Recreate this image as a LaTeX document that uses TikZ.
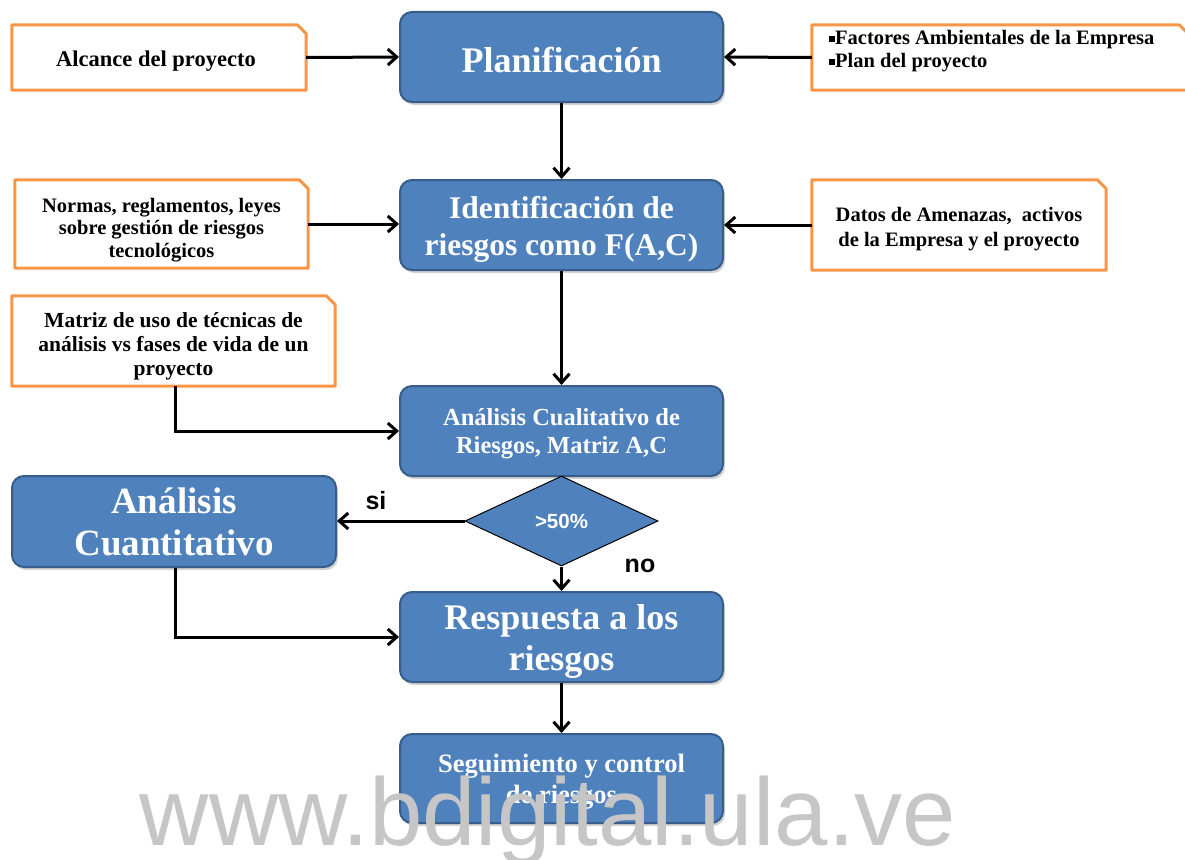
\documentclass[tikz,border=0pt]{standalone}
\usepackage{fontspec}
\setmainfont{Liberation Serif}
\newfontfamily\arialf{Liberation Sans}
\usetikzlibrary{arrows.meta,shapes.geometric,shadows}
\definecolor{boxblue}{HTML}{4F81BD}
\definecolor{boxedge}{HTML}{385D8A}
\definecolor{docorange}{HTML}{F79646}
\definecolor{wmgray}{HTML}{C6C6C6}
\newcommand{\docoutline}[1]{\draw[docline] (#1.north west) -- ([xshift=-9pt]#1.north east) -- ([yshift=-9pt]#1.north east) -- (#1.south east) -- (#1.south west) -- cycle;}
\begin{document}
\begin{tikzpicture}[x=1pt,y=-1pt,
  procbox/.style={rounded corners=12pt, fill=boxblue, draw=boxedge, line width=2pt,
    minimum width=323pt, minimum height=90pt, inner sep=0pt,
    drop shadow={shadow xshift=2pt, shadow yshift=-3pt, opacity=0.35}},
  proctext/.style={text=white, align=center, inner sep=0pt},
  docbox/.style={rectangle, inner sep=0pt},
  docline/.style={draw=docorange, line width=3pt, line join=round},
  doctext/.style={align=center, inner sep=0pt, font=\bfseries\fontsize{20.5}{22.5}\selectfont},
  flow/.style={line width=3pt, -{Straight Barb[length=9pt,width=16pt,line width=3pt]}},
  lbl/.style={font=\arialf\bfseries\fontsize{25}{27}\selectfont}
]
\useasboundingbox (0,0) rectangle (1185,859);
% main boxes
\node[procbox] (plan) at (561.5,57) {};
\node[proctext, font=\bfseries\fontsize{36}{40}\selectfont] (planT) at ([yshift=-3pt]plan.center) {Planificación};
\node[procbox] (ident) at (561.5,225) {};
\node[proctext, font=\bfseries\fontsize{31.5}{37}\selectfont] (identT) at ([yshift=-4pt]ident.center) {Identificación de\\riesgos como F(A,C)};
\node[procbox] (cual) at (561.5,431) {};
\node[proctext, font=\bfseries\fontsize{24.5}{28}\selectfont] (cualT) at ([yshift=-3pt]cual.center) {Análisis Cualitativo de\\Riesgos, Matriz A,C};
\node[procbox] (resp) at (561.5,637) {};
\node[proctext, font=\bfseries\fontsize{36}{41}\selectfont] (respT) at ([yshift=-4pt]resp.center) {Respuesta a los\\riesgos};
\node[procbox, minimum height=89pt] (seg) at (561.5,778.5) {};
\node[proctext, font=\bfseries\fontsize{26.5}{31}\selectfont] (segT) at ([yshift=-3pt]seg.center) {Seguimiento y control\\de riesgos};
\node[procbox, minimum width=324pt, minimum height=91pt] (cuant) at (174,521.5) {};
\node[proctext, font=\bfseries\fontsize{37}{42}\selectfont] (cuantT) at (cuant.center) {Análisis\\Cuantitativo};
% diamond
\node[diamond, fill=boxblue, draw=black, line width=1pt, minimum width=193pt, minimum height=90pt,
  aspect=2.15, inner sep=0pt, text=white, font=\arialf\bfseries\fontsize{20.5}{22}\selectfont] (dec) at (561.5,521) {>50\%};
% document boxes
\node[docbox, minimum width=294pt, minimum height=65pt] (alc) at (159,57.5) {};
\docoutline{alc}
\node[doctext, font=\bfseries\fontsize{22.5}{24}\selectfont] (alcT) at ([xshift=-3pt,yshift=-4pt]alc.center) {Alcance del proyecto};
\node[docbox, minimum width=376pt, minimum height=65pt] (fact) at (1000,57.5) {};
\docoutline{fact}
\node[anchor=north west, inner sep=0pt, align=left, font=\bfseries\fontsize{20.5}{23}\selectfont] (factT) at (829,30)
  {\rule[2pt]{6pt}{6pt}Factores Ambientales de la Empresa\\\rule[2pt]{6pt}{6pt}Plan del proyecto};
\node[docbox, minimum width=293pt, minimum height=88pt] (norm) at (161.5,224) {};
\docoutline{norm}
\node[doctext] (normT) at ([yshift=-6pt]norm.center) {Normas, reglamentos, leyes\\sobre gestión de riesgos\\tecnológicos};
\node[docbox, minimum width=294pt, minimum height=90pt] (dat) at (959,225) {};
\docoutline{dat}
\node[doctext, font=\bfseries\fontsize{20.5}{24.5}\selectfont] (datT) at ([yshift=-4pt]dat.center) {Datos de Amenazas,\ \ activos\\de la Empresa y el proyecto};
\node[docbox, minimum width=323pt, minimum height=90pt] (mat) at (173.5,341) {};
\docoutline{mat}
\node[doctext, font=\bfseries\fontsize{21.5}{24}\selectfont] (matT) at ([yshift=-5pt]mat.center) {Matriz de uso de técnicas de\\análisis vs fases de vida de un\\proyecto};
% connectors
\draw[flow] (alc.east) -- (plan.west);
\draw[flow] (fact.west) -- (plan.east);
\draw[flow] (plan.south) -- (ident.north);
\draw[flow] (norm.east) -- (ident.west |- norm.east);
\draw[flow] (dat.west) -- (ident.east |- dat.west);
\draw[flow] (ident.south) -- (cual.north);
\draw[flow] (mat.south -| 175,0) |- (cual.west);
\draw[flow] (dec.west) -- (cuant.east |- dec.west);
\draw[flow] (dec.south) -- (resp.north);
\draw[flow] (cuant.south -| 175,0) |- (resp.west);
\draw[flow] (resp.south) -- (seg.north);
\node[lbl] (si) at (376,501) {si};
\node[lbl] (no) at (640,566) {no};
% watermark
\node[text=wmgray, font=\arialf\fontsize{96}{100}\selectfont, inner sep=0pt] (wm) at (548,821) {www.bdigital.ula.ve};
\end{tikzpicture}
\end{document}
